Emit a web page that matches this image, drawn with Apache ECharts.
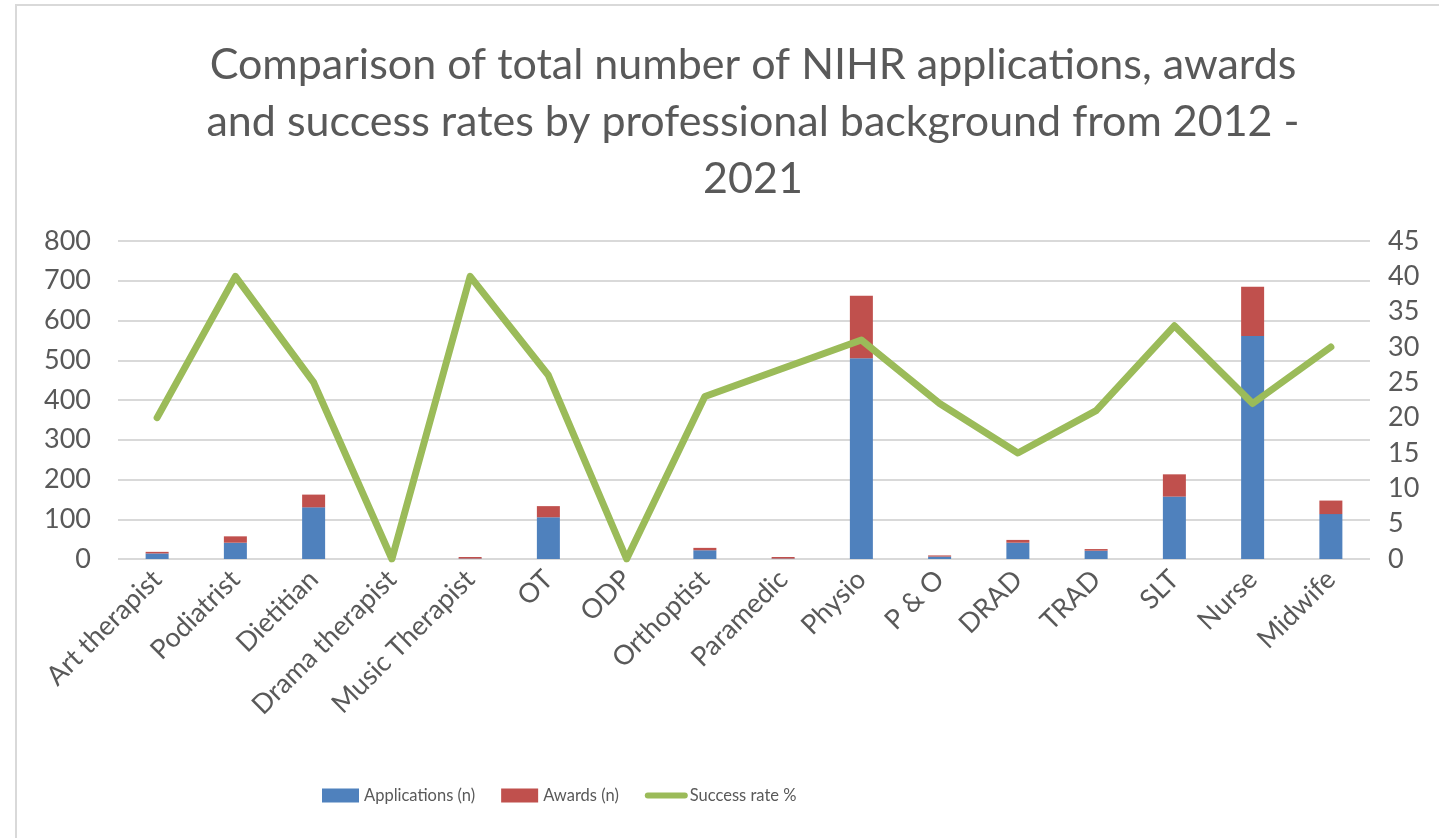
<!DOCTYPE html>
<html>
<head>
<meta charset="utf-8">
<script src="https://cdn.jsdelivr.net/npm/echarts@6/dist/echarts.min.js"></script>
<style>
html,body{margin:0;padding:0;background:#fff;}
#chart{width:1439px;height:838px;}
</style>
</head>
<body>
<div id="chart"></div>
<script>
const categories = ["Art therapist","Podiatrist","Dietitian","Drama therapist","Music Therapist","OT","ODP","Orthoptist","Paramedic","Physio","P & O","DRAD","TRAD","SLT","Nurse","Midwife"];
const applications = [14, 41, 130, 0, 1, 105, 0, 22, 1, 505, 6, 41, 21, 157, 561, 113];
const awards = [4, 16, 32, 0, 4, 28, 0, 6, 4, 157, 3, 7, 4, 56, 124, 34];
const successRate = [20, 40, 25, 0, 40, 26, 0, 23, 27, 31, 22, 15, 21, 33, 22, 30];
const leftTicks = {min: 0, max: 800, interval: 100};
const rightTicks = {min: 0, max: 45, interval: 5};

const FONT = "Lato, 'Open Sans', sans-serif";
const GREY = '#595959';
const chart = echarts.init(document.getElementById('chart'), null, {renderer: 'canvas'});
chart.setOption({
  backgroundColor: '#ffffff',
  animation: false,
  graphic: [{
    type: 'rect', z: -10, silent: true,
    shape: {x: 16, y: 5, width: 1600, height: 1000},
    style: {fill: 'none', stroke: '#d9d9d9', lineWidth: 2}
  }],
  title: {
    text: 'Comparison of total number of NIHR applications, awards\nand success rates by professional background from 2012 -\n2021',
    left: 748, top: 32, textAlign: 'center',
    textStyle: {fontFamily: FONT, fontSize: 43, fontWeight: 'normal', color: GREY, lineHeight: 57}
  },
  legend: {
    left: 317, top: 782,
    itemWidth: 37, itemHeight: 14, itemGap: 26,
    textStyle: {fontFamily: FONT, fontSize: 16.5, color: GREY},
    data: [
      {name: 'Applications (n)', icon: 'rect'},
      {name: 'Awards (n)', icon: 'rect'},
      {name: 'Success rate %', itemStyle: {opacity: 0}, lineStyle: {width: 6, cap: 'round', color: '#9bbb59'}}
    ]
  },
  grid: {left: 118, right: 69, top: 241, bottom: 279, containLabel: false},
  xAxis: {
    type: 'category', data: categories, boundaryGap: true,
    axisLine: {show: false}, axisTick: {show: false},
    axisLabel: {rotate: 45, interval: 0, margin: 16, fontFamily: FONT, fontSize: 27, color: GREY}
  },
  yAxis: [{
    type: 'value', min: leftTicks.min, max: leftTicks.max, interval: leftTicks.interval,
    axisLine: {show: false}, axisTick: {show: false},
    axisLabel: {margin: 27, fontFamily: FONT, fontSize: 27, color: GREY},
    splitLine: {show: true, lineStyle: {color: '#d9d9d9', width: 2}}
  }, {
    type: 'value', min: rightTicks.min, max: rightTicks.max, interval: rightTicks.interval,
    position: 'right',
    axisLine: {show: false}, axisTick: {show: false},
    axisLabel: {margin: 18, fontFamily: FONT, fontSize: 27, color: GREY},
    splitLine: {show: false}
  }],
  series: [{
    name: 'Applications (n)', type: 'bar', stack: 'total', barWidth: 23,
    itemStyle: {color: '#4f81bd'}, data: applications, z: 2
  }, {
    name: 'Awards (n)', type: 'bar', stack: 'total', barWidth: 23,
    itemStyle: {color: '#c0504d'}, data: awards, z: 2
  }, {
    name: 'Success rate %', type: 'line', yAxisIndex: 1, symbol: 'none',
    itemStyle: {color: '#9bbb59'},
    lineStyle: {color: '#9bbb59', width: 7, cap: 'round', join: 'round'},
    data: successRate, z: 5
  }]
});
</script>
</body>
</html>
